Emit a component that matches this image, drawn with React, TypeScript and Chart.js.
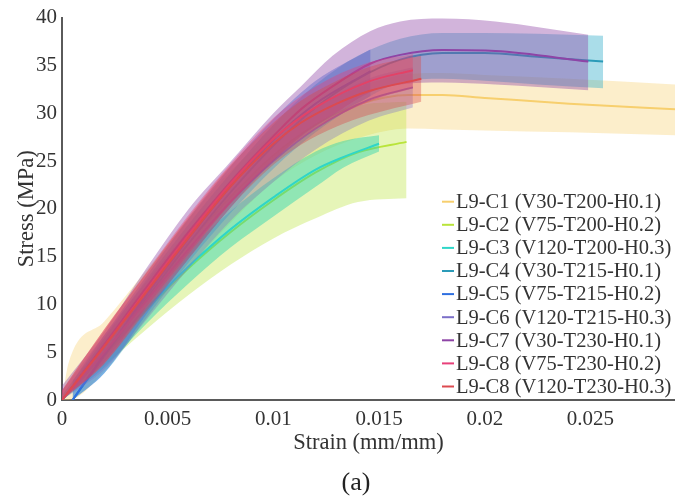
import React, { useEffect, useRef } from "react";
import { Chart, registerables } from "chart.js";

Chart.register(...registerables);

const FONT = "'Liberation Serif', 'Times New Roman', serif";

const seriesLabels = [
  "L9-C1 (V30-T200-H0.1)",
  "L9-C2 (V75-T200-H0.2)",
  "L9-C3 (V120-T200-H0.3)",
  "L9-C4 (V30-T215-H0.1)",
  "L9-C5 (V75-T215-H0.2)",
  "L9-C6 (V120-T215-H0.3)",
  "L9-C7 (V30-T230-H0.1)",
  "L9-C8 (V75-T230-H0.2)",
  "L9-C8 (V120-T230-H0.3)",
];

const lineColors = ["#f7cf6e", "#b9e43a", "#2fd6c8", "#2b9bb8", "#2e6fe0", "#7b6fc8", "#8e44a6", "#e8407a", "#dc4a50"];
const bandColors = [
  "rgba(247,207,110,0.36)",
  "rgba(185,228,58,0.36)",
  "rgba(40,210,175,0.45)",
  "rgba(43,170,200,0.40)",
  "rgba(46,111,224,0.40)",
  "rgba(123,111,200,0.35)",
  "rgba(142,68,166,0.40)",
  "rgba(232,64,122,0.38)",
  "rgba(217,70,70,0.38)",
];

// strain (mm/mm), mean stress, upper and lower bound (MPa)
const c1Strain = [0, 0.0003, 0.002, 0.004, 0.006, 0.008, 0.01, 0.012, 0.014, 0.0164, 0.018, 0.02, 0.024, 0.029];
const c1Mean = [0, 0.8, 5.4, 11.0, 16.4, 21.3, 25.6, 28.8, 30.9, 31.9, 31.9, 31.6, 31.0, 30.4];
const c1Hi = [0, 3.8, 8.2, 13.6, 19.0, 24.0, 27.9, 30.6, 32.7, 34.1, 34.2, 34.0, 33.6, 33.0];
const c1Lo = [0, 0, 3.0, 8.5, 13.8, 18.6, 22.8, 25.6, 27.4, 28.4, 28.3, 28.2, 28.0, 27.7];

const c2Strain = [0, 0.002, 0.004, 0.006, 0.008, 0.01, 0.012, 0.014, 0.0163];
const c2Mean = [0, 4.7, 9.4, 13.8, 17.6, 20.9, 23.8, 25.9, 27.0];
const c2Hi = [0.5, 6.5, 12.0, 17.0, 21.5, 25.5, 28.8, 30.8, 31.2];
const c2Lo = [0, 3.6, 7.4, 11.0, 14.2, 16.9, 19.0, 20.7, 21.1];

const c3Strain = [0, 0.002, 0.004, 0.006, 0.008, 0.01, 0.012, 0.0133, 0.015];
const c3Mean = [0, 4.8, 9.6, 14.0, 17.9, 21.2, 24.1, 25.4, 26.8];
const c3Hi = [0.5, 6.2, 11.2, 15.8, 19.8, 23.2, 26.0, 27.1, 27.7];
const c3Lo = [0, 3.4, 8.0, 12.2, 16.0, 19.2, 22.3, 24.3, 26.0];

const c4Strain = [0.0005, 0.002, 0.004, 0.006, 0.008, 0.01, 0.012, 0.014, 0.016, 0.018, 0.02, 0.0225, 0.0256];
const c4Mean = [0, 4.6, 10.6, 16.4, 21.8, 26.6, 30.6, 33.6, 35.6, 36.3, 36.3, 35.9, 35.4];
const c4Hi = [1.5, 6.5, 12.6, 18.4, 23.8, 28.8, 33.0, 36.0, 37.8, 38.4, 38.4, 38.3, 38.1];
const c4Lo = [0, 2.8, 8.6, 14.4, 19.6, 24.2, 28.0, 31.0, 33.2, 33.6, 33.4, 33.0, 32.6];

const c5Strain = [0.0005, 0.002, 0.004, 0.006, 0.008, 0.01, 0.012, 0.0146];
const c5Mean = [0, 4.8, 11.0, 16.9, 22.4, 27.2, 31.0, 34.4];
const c5Hi = [2.0, 6.8, 13.0, 19.0, 24.5, 29.4, 33.4, 36.7];
const c5Lo = [0, 2.8, 9.0, 14.8, 20.2, 25.0, 28.6, 31.8];

const c6Strain = [0, 0.002, 0.004, 0.006, 0.008, 0.01, 0.012, 0.0145, 0.0166];
const c6Mean = [0, 5.0, 10.4, 15.8, 20.8, 25.0, 28.4, 31.4, 32.7];
const c6Hi = [1, 6.8, 12.4, 17.8, 22.8, 27.2, 30.6, 33.6, 34.8];
const c6Lo = [0, 3.2, 8.4, 13.8, 18.8, 22.8, 26.2, 29.2, 30.6];

const c7Strain = [0, 0.002, 0.004, 0.006, 0.008, 0.01, 0.0113, 0.0128, 0.0146, 0.016, 0.018, 0.0205, 0.0249];
const c7Mean = [0, 5.8, 11.8, 17.6, 22.9, 27.6, 30.4, 32.8, 35.2, 36.1, 36.6, 36.5, 35.4];
const c7Hi = [1.5, 7.2, 13.8, 20.0, 25.0, 30.0, 32.8, 36.0, 38.6, 39.6, 39.9, 39.6, 38.2];
const c7Lo = [0, 4.0, 9.8, 15.4, 20.6, 25.0, 27.6, 29.8, 32.2, 33.0, 33.2, 33.0, 32.4];

const c8Strain = [0, 0.002, 0.004, 0.006, 0.008, 0.01, 0.012, 0.0145, 0.0166];
const c8Mean = [0, 5.6, 11.5, 17.3, 22.7, 27.3, 30.6, 33.3, 34.5];
const c8Hi = [1, 7.4, 13.4, 19.4, 24.8, 29.5, 32.8, 35.3, 36.2];
const c8Lo = [0, 3.8, 9.6, 15.2, 20.6, 25.1, 28.4, 31.2, 32.6];

const c9Strain = [0, 0.002, 0.004, 0.006, 0.008, 0.01, 0.0113, 0.013, 0.0145, 0.017];
const c9Mean = [0, 5.6, 11.3, 17.0, 22.4, 26.8, 29.0, 31.0, 32.3, 33.6];
const c9Hi = [1, 7.4, 13.3, 19.2, 24.6, 29.0, 31.3, 33.4, 34.8, 36.0];
const c9Lo = [0, 3.8, 9.3, 14.8, 20.2, 24.6, 26.7, 28.6, 29.8, 31.2];

const seriesStrain = [c1Strain, c2Strain, c3Strain, c4Strain, c5Strain, c6Strain, c7Strain, c8Strain, c9Strain];
const seriesMean = [c1Mean, c2Mean, c3Mean, c4Mean, c5Mean, c6Mean, c7Mean, c8Mean, c9Mean];
const seriesHi = [c1Hi, c2Hi, c3Hi, c4Hi, c5Hi, c6Hi, c7Hi, c8Hi, c9Hi];
const seriesLo = [c1Lo, c2Lo, c3Lo, c4Lo, c5Lo, c6Lo, c7Lo, c8Lo, c9Lo];

const xTitle = "Strain (mm/mm)";
const yTitle = "Stress (MPa)";
const caption = "(a)";

const pts = (xs: number[], ys: number[]) => xs.map((x, i) => ({ x, y: ys[i] }));

const legendPlugin = {
  id: "customLegend",
  afterDraw(chart: any) {
    const ctx = chart.ctx;
    ctx.save();
    ctx.font = `20.5px ${FONT}`;
    ctx.textBaseline = "middle";
    ctx.textAlign = "left";
    seriesLabels.forEach((label, i) => {
      const y = 201.7 + i * 23.1;
      ctx.strokeStyle = lineColors[i];
      ctx.lineWidth = 2;
      ctx.beginPath();
      ctx.moveTo(442, y);
      ctx.lineTo(454, y);
      ctx.stroke();
      ctx.fillStyle = "#333";
      ctx.fillText(label, 456, y + 1);
    });
    ctx.font = `26px ${FONT}`;
    ctx.textAlign = "center";
    ctx.fillStyle = "#222";
    ctx.fillText(caption, 356, 483);
    ctx.restore();
  },
};

export default function App() {
  const ref = useRef<HTMLCanvasElement | null>(null);
  useEffect(() => {
    document.body.style.margin = "0";
    const datasets: any[] = [];
    seriesLabels.forEach((label, i) => {
      const base = 100 - 3 * i;
      datasets.push({
        label: label + " upper",
        data: pts(seriesStrain[i], seriesHi[i]),
        borderWidth: 0,
        pointRadius: 0,
        backgroundColor: bandColors[i],
        fill: "+1",
        cubicInterpolationMode: "monotone",
        order: base,
      });
      datasets.push({
        label: label + " lower",
        data: pts(seriesStrain[i], seriesLo[i]),
        borderWidth: 0,
        pointRadius: 0,
        fill: false,
        cubicInterpolationMode: "monotone",
        order: base,
      });
      datasets.push({
        label,
        data: pts(seriesStrain[i], seriesMean[i]),
        borderColor: lineColors[i],
        borderWidth: 2,
        pointRadius: 0,
        fill: false,
        cubicInterpolationMode: "monotone",
        order: base - 1,
      });
    });
    const chart = new Chart(ref.current as HTMLCanvasElement, {
      type: "line",
      data: { datasets },
      options: {
        animation: false,
        responsive: false,
        devicePixelRatio: 1,
        layout: { padding: { top: 15, right: 0, left: 0, bottom: 38 } },
        plugins: { legend: { display: false }, tooltip: { enabled: false } },
        scales: {
          x: {
            type: "linear",
            min: 0,
            max: 0.029,
            grid: { display: false, drawTicks: false },
            border: { display: true, color: "#5a5a5a", width: 2 },
            ticks: {
              stepSize: 0.005,
              includeBounds: false,
              padding: 7,
              color: "#333",
              font: { family: FONT, size: 21 },
              callback: (v: any) => {
                const n = Number(v);
                return n === 0 ? "0" : String(parseFloat(n.toFixed(4)));
              },
            },
            title: { display: true, text: xTitle, color: "#333", font: { family: FONT, size: 22.5 }, padding: { top: 0, bottom: 4.5 } },
            afterFit: (scale: any) => {
              scale.height = 61;
            },
          },
          y: {
            type: "linear",
            min: 0,
            max: 40,
            grid: { display: false, drawTicks: false },
            border: { display: true, color: "#5a5a5a", width: 2 },
            ticks: { stepSize: 5, padding: 5, color: "#333", font: { family: FONT, size: 21 } },
            title: { display: true, text: yTitle, color: "#333", font: { family: FONT, size: 22.5 }, padding: { top: 14, bottom: 0 } },
            afterFit: (scale: any) => {
              scale.width = 62;
            },
          },
        },
      },
      plugins: [legendPlugin],
    });
    return () => chart.destroy();
  }, []);
  return (
    <div style={{ width: 675, height: 499, position: "relative" }}>
      <canvas ref={ref} width={675} height={499} />
    </div>
  );
}
